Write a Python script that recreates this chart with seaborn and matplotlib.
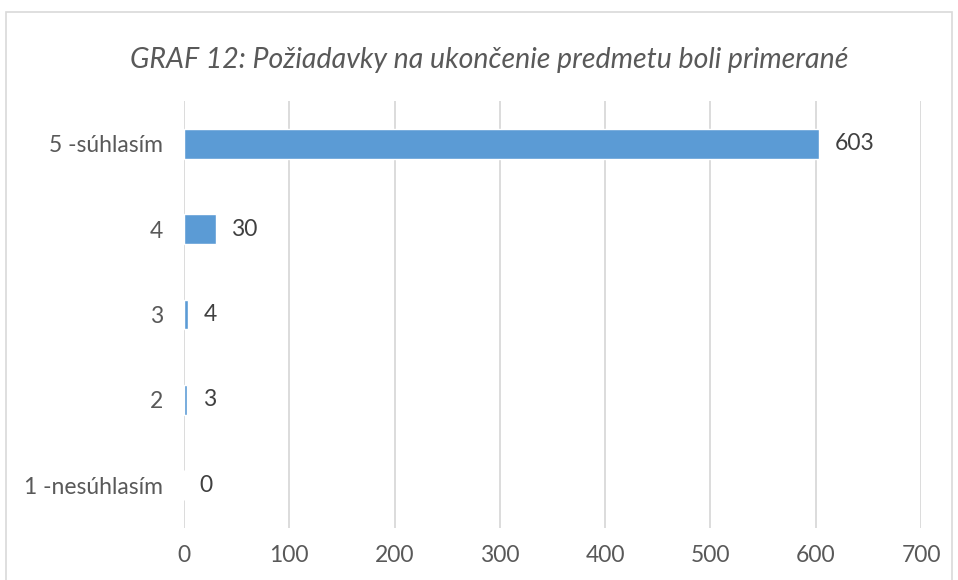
import matplotlib
matplotlib.use("Agg")
import matplotlib.pyplot as plt
import seaborn as sns
import pandas as pd
from matplotlib.patches import Rectangle

# ── Data ──────────────────────────────────────────────────────
categories = ["5 -súhlasím", "4", "3", "2", "1 -nesúhlasím"]
counts     = [603, 30, 4, 3, 0]
x_ticks    = [0, 100, 200, 300, 400, 500, 600, 700]
title      = "GRAF 12: Požiadavky na ukončenie predmetu boli primerané"

df = pd.DataFrame({"odpoved": categories, "pocet": counts})

TEXT_COLOR = "#595959"
BAR_COLOR  = "#5b9bd5"
GRID_COLOR = "#d9d9d9"

sns.set_style("white")
plt.rcParams["font.family"] = ["Lato", "DejaVu Sans"]

fig = plt.figure(figsize=(9.58, 5.80), dpi=100)
ax = fig.add_axes([0.192, 0.0897, 0.7694, 0.7363])

sns.barplot(data=df, x="pocet", y="odpoved", order=categories,
            color=BAR_COLOR, saturation=1, width=0.35, ax=ax, zorder=3)

# value labels
for patch, val in zip(ax.patches, counts):
    y = patch.get_y() + patch.get_height() / 2
    ax.text(patch.get_width() + 15, y, f"{val}", ha="left", va="center",
            fontsize=16.5, color="#404040")

ax.set_xlim(0, 700)
ax.set_xticks(x_ticks)
ax.set_xticklabels([str(t) for t in x_ticks])
ax.set_xlabel("")
ax.set_ylabel("")
ax.grid(True, axis="x", color=GRID_COLOR, linewidth=1.3, zorder=0)
ax.grid(False, axis="y")
for s in ax.spines.values():
    s.set_visible(False)
ax.tick_params(axis="both", length=0, labelsize=16.5, labelcolor=TEXT_COLOR)
ax.tick_params(axis="x", pad=12)
ax.tick_params(axis="y", pad=15)

fig.text(0.511, 0.897, title, ha="center", va="center", fontsize=20.5,
         style="italic", color=TEXT_COLOR)

# chart border
fig.patches.append(Rectangle((0.006, -0.01), 0.988, 0.99, transform=fig.transFigure,
                             fill=False, edgecolor="#d9d9d9", linewidth=1.2))

fig.savefig("out.png", dpi=100)
